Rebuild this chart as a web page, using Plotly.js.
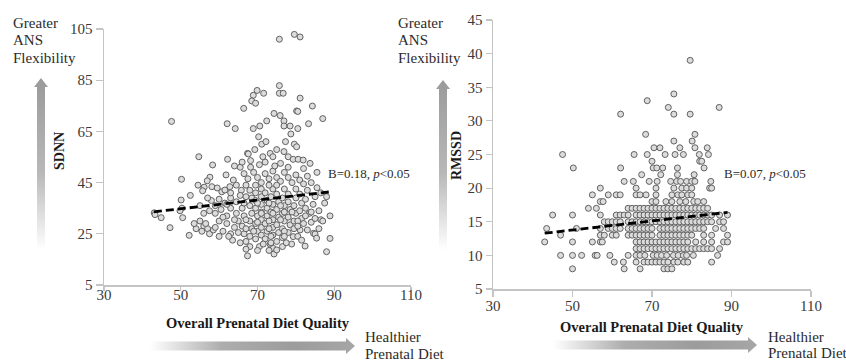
<!DOCTYPE html>
<html>
<head>
<meta charset="utf-8">
<script src="https://cdn.plot.ly/plotly-3.0.1.min.js"></script>
<style>html,body{margin:0;padding:0;background:#fff;}#chart{width:846px;height:362px;}</style>
</head>
<body>
<div id="chart"></div>
<script>
// ---------- data ----------
const dietTicks = [30, 50, 70, 90, 110];
const sdnnTicks = [5, 25, 45, 65, 85, 105];
const rmssdTicks = [5, 10, 15, 20, 25, 30, 35, 40, 45];

const sdnnDiet = [75.7,79.6,81.1,47.6,75.7,69.9,71.6,75.7,76.7,68.9,
68.5,69.5,81.1,84.3,66.4,80.2,80.5,74.3,75.9,76.9,
87,83.3,62.1,64.2,68.9,70.6,72.4,76.9,78.5,80.5,
78.7,70.3,77.3,79.6,80.2,71.1,72.2,69.3,67.4,75,
76.9,78,79.3,80.6,81.9,83.7,54.7,58.3,62.2,65.5,
67.6,68.2,68.2,73.3,74,71.4,50.2,57.6,56.9,56.1,
55.7,58.1,59.5,60.7,61.5,62.8,61.8,63.7,64.5,65.8,
66.5,67.5,69,70,71,72,73,74,75,76,
77,78,79,80,81,82,83,84,85.5,86.5,
88,50.1,43.1,43.3,44.9,47.2,50.5,52.2,50.3,49.8,
55,56,55.5,57,57.5,56.5,58.5,60,61,62,
63,63.5,65,64,56,57.5,59,60.5,62,63,
64.5,58,60,61.5,63,64.5,65.5,66,66.5,66,
66.5,67,67.4,68,68,68.5,68,68.5,68,68.5,
68,69.5,69.5,69.5,69.5,70,69.5,70,69.5,70.5,
71,71,71,71,71,71,71,72,72.5,72.5,
72.5,72,72.5,72,73.3,74.1,74.3,73.5,74,74,
74,73.5,74,73.5,74,75,75,75.5,75,75.5,
75,75.5,75,75,76.5,76.5,76.5,77,76.5,77,
76.5,77,78,78,78.5,78,78.5,78,78.9,79.3,
79.5,79.5,80,79.5,80,80,81,81.5,81,81.5,
81.1,82,82.4,82.5,82.5,83,83.5,84,84.6,85,
85.4,84.5,85,86,86.5,87,88.9,87.5,88,88.9,
86,83,80.5,77.5,73,71.5,70,67,65.5,62.5,
60,59,54,53.5,55,57,52.5,54.5,64,66,
70.5,72,74.5,76,78,85.5,82,73,67,63,
62,59,66.5,67,70,73,76,79,80.5,76,
73,70,67,64,61,73,77,80.5,71,74,
77,82.5,84,85,69,67,65,73.5,77,81.5];

const sdnnValue = [101,102.9,101.9,68.9,82.9,81,79.9,79.9,79.9,79.1,
76.9,76,78,74.9,74,73,72.8,72,71.2,69.1,
70,68,68,66.1,66.1,67.1,69.1,67.1,67.1,66.1,
64,62.9,61,60,59,60,61,57.9,56.4,57.9,
57.1,55.1,54.1,54.1,53.8,52.5,55.1,51.9,54.1,51,
56.2,53.6,51,56.4,55.1,55.1,46.3,47.1,45.7,43.2,
41.8,43.4,42.9,41.4,42.1,43.4,48,46,44,42,
48.5,46.5,49,47,45,48.5,46.5,49.5,47,45.5,
49,47,45,48,46,44.5,47.5,45,43,41,
39.5,38.2,33.2,32.5,31.3,27.4,31.3,24.4,35,34,
30,28,26,27,25,29,26.5,30,26,29,
25,22.5,30,27.5,33,34,33,34.5,32,35,
33,38,38.5,37,39,37.5,40,35,32,28,
25,22,16.4,20,24,27,30,33,36,39,
42,44,41,38,35,32,29,26,23,20,
24.5,27.5,30.5,33.5,36.5,39.5,42.5,41,38,35,
32,29,26,23,20.9,19.3,17.1,21.5,24.5,27.5,
30.5,33.5,36.5,39.5,42.5,44,40.5,37.5,34.5,31.5,
28.5,25.5,22,18.7,20,23.5,27,30,33,36,
39,42.5,40.5,37.5,34.5,31.5,28.5,25.5,21,23.9,
27,30,33,36,39,42.5,40.5,37,34,31,
26.5,29,20.2,35,38.5,42,33,29.5,25.2,24.9,
23.3,36.5,39.5,34,30.5,30,32,37,18,23.2,
27,26.5,24,21.5,18.5,21,18.5,19,21.5,24,
24,27.5,27,29,36,39,40,44,51.5,53,
52,53,51.5,52.5,51,49,50.5,44,44,41,
36.5,36,37,39.5,37,37,36,33.5,30,30.5,
30,29.5,30.5,30.5,31.5,27,26,28,33,33,
33.5,32,33.5,31,26,27,25.5,24,24,22.5];

const rmssdDiet = [
50,63,67,73,74,75,
60.5,62.8,66,68,69,70,71,72,73,74,75.5,76.5,78,79,85,
47,50,52.3,55.7,56.2,59.4,64,66,67,68.2,70.3,71.3,72.4,73.7,75.4,76.6,77.9,78.7,80.4,86.5,
66,67,68,69,70,71,72,73,74,75,76,77,78,79,80,81,82,83,84,85,87,
43,50,55,57,57.5,66,67,68,69,70,71,72,73,74,75,76,77,78,79,81,83,85,88,89,
47,57,58,60,61,64,65,66,67,68,69,70,72,73,74,75,76,77,78,79,80,83,85,89,
43.5,51,57,59,60,61,62,64,65,66,67,68,69,70,72,73,74,75,76,77,78,79,80,81,82,83,86,88,
58,59,60,61,62,64,65,66,67,68,69,70,71,72,73,74,75,76,77,78,79,80,81,82,83,84,85,87,88,
45,50,57,61,62,63,64,66,67,68,69,70,71,72,73,74,75,76,77,78,79,80,81,82,83,84,85,87,89,
54,56,64,65,66,67,68,69,70,71,72,73,74,75,76,77,78,79,80,81,82,83,84,
57,57.7,70,71,73.5,75,77,78.5,80.5,81.5,83,
55,59,61,62,66,67,68.5,71,75,76.5,77.5,79,80,
57,66,71,75.5,77.5,78.7,80,84.5,85,
63,65.3,69.3,71.3,74.7,76.2,77.2,78.7,80,80.8,84.8,
67.4,72.2,76.4,80.6,
50.2,62.1,70.3,71.2,72.7,76.4,83.1,
70,82,82.5,
47.5,65.5,68.8,73.3,75.8,77.9,81.9,84.2,
70.5,72,77,80.8,83.9,
75.5,80.1,
68.4,80.8,
62.1,75.5,79.6,
74.1,86.9,
68.8,
75.5,
79.6];

const rmssdValue = [
8,8,8,8,8,8,
9,9,9,9,9,9,9,9,9,9,9,9,9,9,9,
10,10,10,10,10,10,10,10,10,10,10,10,10,10,10,10,10,10,10,10,
11,11,11,11,11,11,11,11,11,11,11,11,11,11,11,11,11,11,11,11,11,
12,12,12,12,12,12,12,12,12,12,12,12,12,12,12,12,12,12,12,12,12,12,12,12,
13,13,13,13,13,13,13,13,13,13,13,13,13,13,13,13,13,13,13,13,13,13,13,13,
14,14,14,14,14,14,14,14,14,14,14,14,14,14,14,14,14,14,14,14,14,14,14,14,14,14,14,14,
15,15,15,15,15,15,15,15,15,15,15,15,15,15,15,15,15,15,15,15,15,15,15,15,15,15,15,15,15,
16,16,16,16,16,16,16,16,16,16,16,16,16,16,16,16,16,16,16,16,16,16,16,16,16,16,16,16,16,
17,17,17,17,17,17,17,17,17,17,17,17,17,17,17,17,17,17,17,17,17,17,17,
18,18,18,18,18,18,18,18,18,18,18,
19,19,19,19,19,19,19,19,19,19,19,19,19,
20,20,20,20,20,20,20,20,20,
21,21,21,21,21,21,21,21,21,21,21,
22,22,22,22,
23,23,23,23,23,23,23,
24,24,24,
25,25,25,25,25,25,25,25,
26,26,26,26,26,
27,27,
28,28,
31,31,31,
32,32,
33,
34,
39];

const sdnnFitDiet = [43, 89];
const sdnnFitValue = [33.6, 41.4];
const rmssdFitDiet = [43, 89];
const rmssdFitValue = [13.3, 16.4];

// arrow outlines in page pixels (decoration, not data)
const arrowUpLeftX = [41,48,45,45,37,37,34,41];
const arrowUpLeftY = [78,87,87,250,250,87,87,78];
const arrowUpRightX = [443,450,447,447,439,439,436,443];
const arrowUpRightY = [80,89,89,250,250,89,89,80];
const arrowRtLeftX = [355,346,346,150,150,346,346,355];
const arrowRtLeftY = [346,338,341.5,341.5,350.5,350.5,354,346];
const arrowRtRightX = [757,748,748,553,553,748,748,757];
const arrowRtRightY = [345,337,340.5,340.5,349.5,349.5,353,345];

// ---------- chart ----------
const W = 846, H = 362;
const FONT = 'Liberation Serif, Times New Roman, serif';
const TXT = '#2b2b2b';
const px = x => x / W;
const py = y => 1 - y / H;

const marker = {symbol:'circle', size:6, color:'#dcdcdc', line:{color:'#616161', width:1}};

function arrow(xs, ys, type, start, stop, cs) {
  return {x:xs, y:ys, xaxis:'x3', yaxis:'y3', mode:'lines', line:{width:0, color:'rgba(0,0,0,0)'},
    fill:'toself', fillcolor:'#a8a8a8',
    fillgradient:{type:type, start:start, stop:stop, colorscale:cs},
    hoverinfo:'skip', showlegend:false};
}
const vScale = [[0,'#ffffff'],[0.45,'#b8b8b8'],[1,'#9a9a9a']];
const hScale = [[0,'#ffffff'],[0.35,'#adadad'],[0.7,'#9c9c9c'],[1,'#a6a6a6']];

const traces = [
  {x:sdnnDiet, y:sdnnValue, xaxis:'x', yaxis:'y', mode:'markers', type:'scatter', marker:marker, hoverinfo:'skip'},
  {x:sdnnFitDiet, y:sdnnFitValue, xaxis:'x', yaxis:'y', mode:'lines', line:{color:'#000', width:2.8, dash:'8px,4px'}},
  {x:rmssdDiet, y:rmssdValue, xaxis:'x2', yaxis:'y2', mode:'markers', type:'scatter', marker:marker, hoverinfo:'skip'},
  {x:rmssdFitDiet, y:rmssdFitValue, xaxis:'x2', yaxis:'y2', mode:'lines', line:{color:'#000', width:2.8, dash:'8px,4px'}},
  arrow(arrowUpLeftX, arrowUpLeftY, 'vertical', 250, 78, vScale),
  arrow(arrowUpRightX, arrowUpRightY, 'vertical', 250, 80, vScale),
  arrow(arrowRtLeftX, arrowRtLeftY, 'horizontal', 150, 355, hScale),
  arrow(arrowRtRightX, arrowRtRightY, 'horizontal', 553, 757, hScale)
];

const axBase = {showgrid:false, zeroline:false, showline:true, linecolor:'#c4c4c4', linewidth:1.5,
  ticks:'outside', tickcolor:'#c4c4c4', tickwidth:1.2,
  tickfont:{family:FONT, size:15, color:'#3a3a3a'}, fixedrange:true};

function ann(text, x, y, opts) {
  return Object.assign({text:text, x:px(x), y:py(y), xref:'paper', yref:'paper', showarrow:false,
    xanchor:'left', yanchor:'middle', font:{family:FONT, size:15, color:TXT}}, opts || {});
}

const annotations = [
  ann('Greater', 11, 23), ann('ANS', 11, 40), ann('Flexibility', 11, 58),
  ann('Greater', 396, 23), ann('ANS', 396, 40), ann('Flexibility', 396, 58),
  ann('<b>SDNN</b>', 59, 151, {xanchor:'center', textangle:-90, font:{family:FONT, size:14, color:'#1a1a1a'}}),
  ann('<b>RMSSD</b>', 456, 156, {xanchor:'center', textangle:-90, font:{family:FONT, size:14, color:'#1a1a1a'}}),
  ann('<b>Overall Prenatal Diet Quality</b>', 258, 323, {xanchor:'center', font:{family:FONT, size:14.5, color:'#1a1a1a'}}),
  ann('<b>Overall Prenatal Diet Quality</b>', 652, 327, {xanchor:'center', font:{family:FONT, size:14.5, color:'#1a1a1a'}}),
  ann('Healthier', 363, 337), ann('Prenatal Diet', 363, 354),
  ann('Healthier', 766, 337), ann('Prenatal Diet', 766, 353),
  ann('B=0.18, <i>p</i>&lt;0.05', 326, 173, {font:{family:FONT, size:13, color:TXT}}),
  ann('B=0.07, <i>p</i>&lt;0.05', 722, 173, {font:{family:FONT, size:13, color:TXT}})
];

const layout = {
  width:W, height:H, margin:{l:0, r:0, t:0, b:0}, showlegend:false,
  paper_bgcolor:'#ffffff', plot_bgcolor:'rgba(0,0,0,0)',
  font:{family:FONT, color:TXT},
  xaxis:Object.assign({}, axBase, {domain:[px(104), px(411)], range:[30,110], tickvals:dietTicks, ticklen:4, ticklabelstandoff:-9, anchor:'y'}),
  yaxis:Object.assign({}, axBase, {domain:[py(285), py(29)], range:[5,105], tickvals:sdnnTicks, ticklen:7, anchor:'x'}),
  xaxis2:Object.assign({}, axBase, {domain:[px(493), px(811)], range:[30,110], tickvals:dietTicks, ticklen:6, ticklabelstandoff:-4, anchor:'y2'}),
  yaxis2:Object.assign({}, axBase, {domain:[py(289), py(20)], range:[5,45], tickvals:rmssdTicks, ticklen:6, anchor:'x2'}),
  xaxis3:{domain:[0,1], range:[0,W], visible:false, fixedrange:true, anchor:'y3'},
  yaxis3:{domain:[0,1], range:[H,0], visible:false, fixedrange:true, anchor:'x3'},
  annotations:annotations
};

Plotly.newPlot('chart', traces, layout, {staticPlot:true, displayModeBar:false});
</script>
</body>
</html>
